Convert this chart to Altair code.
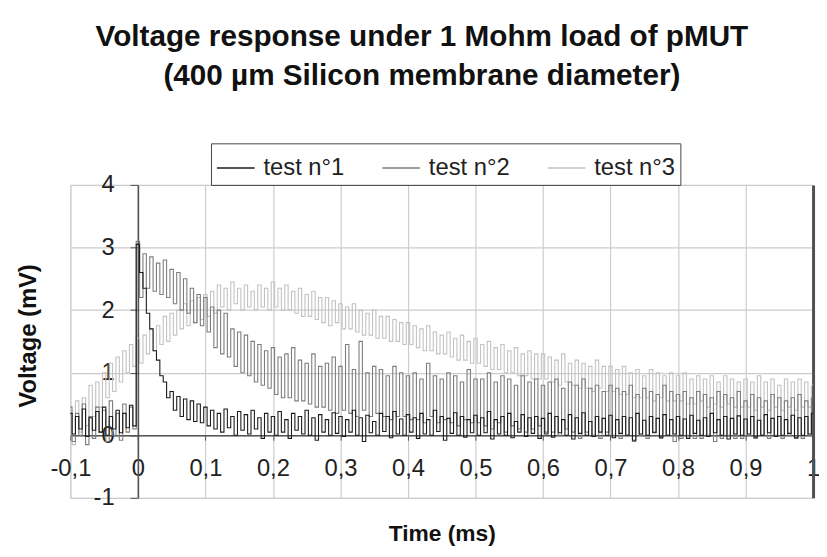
import altair as alt
import pandas as pd

# ---------------- data ----------------
title_lines = ["Voltage response under 1 Mohm load of pMUT",
               "(400 µm Silicon membrane diameter)"]
series_names = ["test n°1", "test n°2", "test n°3"]
series_colors = ["#1c1c1c", "#7d7d7d", "#c2c2c2"]
x_ticks = [-0.1, 0.0, 0.1, 0.2, 0.3, 0.4, 0.5, 0.6, 0.7, 0.8, 0.9, 1.0]
y_ticks = [-1, 0, 1, 2, 3, 4]

# sampling instants (ms): local maxima and the minima right after them
t_peak = [round(-0.1 + 0.01 * k, 3) for k in range(111)]
t_trough = [round(-0.095 + 0.01 * k, 3) for k in range(110)]

# test n°1 (mV)
s1_peak = [0.35, 0.3, 0.42, 0.28, 0.38, 0.45, 0.3, 0.4, 0.35, 0.48,
           3.05, 2.35, 1.7, 1.2, 0.85, 0.7, 0.62, 0.58, 0.55, 0.5,
           0.45, 0.4, 0.35, 0.42, 0.3, 0.38, 0.33, 0.4, 0.28, 0.35,
           0.3, 0.38, 0.25, 0.35, 0.3, 0.4, 0.28, 0.33, 0.25, 0.36,
           0.3, 0.25, 0.4, 0.28, 0.32, 0.22, 0.35, 0.3, 0.38, 0.26,
           0.33, 0.28, 0.35, 0.25, 0.4, 0.3, 0.27, 0.36, 0.3, 0.25,
           0.32, 0.28, 0.38, 0.25, 0.3, 0.35, 0.22, 0.33, 0.28, 0.3,
           0.27, 0.35, 0.3, 0.25, 0.33, 0.28, 0.36, 0.22, 0.3, 0.27,
           0.32, 0.25, 0.3, 0.28, 0.35, 0.24, 0.3, 0.27, 0.33, 0.25,
           0.3, 0.26, 0.32, 0.24, 0.28, 0.35, 0.25, 0.3, 0.27, 0.31,
           0.26, 0.3, 0.24, 0.33, 0.27, 0.3, 0.25, 0.32, 0.28, 0.3,
           0.35]
s1_trough = [0.02, 0.1, -0.02, 0.08, 0.05, 0.0, 0.1, 0.04, 0.12, 0.15,
             2.6, 1.95, 1.35, 0.95, 0.6, 0.4, 0.3, 0.25, 0.22, 0.2,
             0.15, 0.1, 0.05, 0.12, 0.0, 0.08, 0.02, 0.1, -0.05, 0.05,
             0.0, 0.05, -0.05, 0.08, 0.02, 0.0, -0.08, 0.05, 0.0, 0.03,
             -0.02, 0.05, 0.0, -0.1, 0.04, 0.0, 0.06, -0.04, 0.02, 0.0,
             0.05, -0.05, 0.02, 0.0, 0.06, -0.08, 0.03, 0.0, -0.03, 0.04,
             0.0, 0.04, -0.06, 0.02, 0.0, -0.04, 0.05, -0.02, 0.03, -0.05,
             0.02, -0.03, 0.04, 0.0, -0.06, 0.03, 0.0, -0.02, 0.05, 0.0,
             -0.04, 0.03, 0.0, -0.08, 0.02, 0.0, 0.04, -0.03, 0.0, 0.02,
             0.0, -0.05, 0.03, 0.0, -0.02, 0.04, 0.0, -0.06, 0.02, 0.0,
             0.02, -0.03, 0.0, 0.04, -0.02, 0.0, 0.03, -0.04, 0.0, 0.02]

# test n°2 (mV)
s2_peak = [0.45, 0.35, 0.5, 0.3, 0.45, 0.4, 0.55, 0.35, 0.5, 0.45,
           3.1, 2.9, 2.85, 2.75, 2.8, 2.65, 2.6, 2.5, 2.35, 2.25,
           2.2, 2.05, 2.0, 1.95, 1.7, 1.65, 1.6, 1.5, 1.45, 1.35,
           1.4, 1.25, 1.3, 1.4, 1.2, 1.15, 1.3, 1.1, 1.15, 1.25,
           1.1, 1.45, 1.05, 1.5, 1.0, 1.1, 1.05, 0.95, 1.1, 1.0,
           0.95, 1.0, 0.9, 1.15, 0.95, 0.9, 1.0, 0.95, 0.85, 1.05,
           0.9, 0.9, 1.0, 0.85, 0.95, 0.9, 0.8, 0.95, 0.85, 0.9,
           0.8, 0.85, 0.9, 0.75, 0.85, 0.8, 0.9, 0.75, 0.8, 0.7,
           0.8, 0.75, 0.7, 0.8, 0.65, 0.75, 0.7, 0.65, 0.8, 0.7,
           0.65, 0.7, 0.6, 0.7, 0.65, 0.6, 0.7, 0.65, 0.6, 0.7,
           0.55, 0.65, 0.6, 0.55, 0.65, 0.6, 0.55, 0.6, 0.65, 0.55,
           0.6]
s2_trough = [-0.1, 0.0, -0.15, -0.05, 0.05, -0.1, 0.0, -0.08, 0.05, 0.1,
             2.2, 2.35, 2.3, 2.25, 2.2, 2.1, 2.0, 1.95, 1.8, 1.75,
             1.65, 1.4, 1.3, 1.25, 1.1, 1.0, 0.95, 0.85, 0.8, 0.75,
             0.65, 0.6, 0.6, 0.55, 0.55, 0.5, 0.45, 0.45, 0.4, 0.35,
             0.4, 0.35, 0.3, 0.4, 0.3, 0.35, 0.3, 0.25, 0.3, 0.3,
             0.25, 0.25, 0.2, 0.3, 0.2, 0.25, 0.2, 0.15, 0.25, 0.2,
             0.2, 0.15, 0.1, 0.2, 0.05, 0.15, 0.1, 0.05, 0.1, 0.15,
             0.05, 0.05, 0.0, 0.1, 0.05, -0.05, 0.05, 0.0, -0.05, 0.05,
             0.0, -0.05, 0.0, -0.1, 0.0, -0.05, 0.05, -0.05, 0.0, -0.1,
             -0.05, 0.0, -0.05, -0.05, 0.0, -0.1, -0.05, 0.0, -0.05, -0.05,
             0.0, -0.05, 0.0, -0.05, 0.0, -0.05, 0.0, -0.05, -0.05, 0.0]

# test n°3 (mV)
s3_peak = [0.35, 0.55, 0.6, 0.8, 0.85, 1.0, 1.15, 1.25, 1.35, 1.45,
           1.55, 1.6, 1.7, 1.75, 1.9, 1.95, 2.0, 2.1, 2.15, 2.2,
           2.25, 2.3, 2.4, 2.35, 2.45, 2.35, 2.4, 2.3, 2.4, 2.35,
           2.45, 2.35, 2.4, 2.3, 2.35, 2.25, 2.3, 2.2, 2.2, 2.15,
           2.1, 2.05, 2.1, 2.0, 1.95, 2.0, 1.9, 1.9, 1.85, 1.8,
           1.8, 1.75, 1.7, 1.75, 1.65, 1.6, 1.65, 1.55, 1.6, 1.5,
           1.55, 1.45, 1.5, 1.4, 1.45, 1.35, 1.4, 1.3, 1.35, 1.3,
           1.3, 1.25, 1.2, 1.3, 1.15, 1.2, 1.15, 1.1, 1.2, 1.1,
           1.1, 1.05, 1.1, 1.0, 1.05, 0.95, 1.05, 1.0, 0.95, 1.0,
           0.95, 1.0, 0.9, 0.95, 0.9, 0.95, 0.85, 0.95, 0.9, 0.85,
           0.9, 0.85, 0.95, 0.85, 0.9, 0.8, 0.9, 0.85, 0.9, 0.85,
           0.8]
s3_trough = [-0.15, 0.05, 0.15, 0.3, 0.45, 0.6, 0.7, 0.85, 1.0, 1.1,
             1.15, 1.3, 1.35, 1.45, 1.5, 1.6, 1.7, 1.75, 1.8, 1.85,
             1.9, 1.95, 2.05, 2.0, 2.1, 2.0, 2.05, 2.0, 2.05, 2.0,
             2.05, 2.0, 2.0, 1.95, 1.9, 1.9, 1.85, 1.8, 1.75, 1.8,
             1.7, 1.7, 1.65, 1.6, 1.6, 1.55, 1.55, 1.5, 1.5, 1.45,
             1.45, 1.4, 1.35, 1.35, 1.3, 1.3, 1.25, 1.2, 1.2, 1.15,
             1.15, 1.1, 1.05, 1.05, 1.0, 1.0, 0.95, 0.95, 0.9, 0.9,
             0.9, 0.85, 0.8, 0.85, 0.8, 0.75, 0.75, 0.7, 0.75, 0.7,
             0.7, 0.65, 0.65, 0.6, 0.6, 0.6, 0.55, 0.6, 0.55, 0.55,
             0.55, 0.5, 0.5, 0.55, 0.45, 0.5, 0.45, 0.5, 0.45, 0.45,
             0.45, 0.4, 0.45, 0.4, 0.45, 0.4, 0.45, 0.4, 0.45, 0.45]


def series_rows(name, peaks, troughs):
    rows = []
    for k, v in enumerate(peaks):
        rows.append({"t": t_peak[k], "v": v, "series": name})
        if k < len(troughs):
            rows.append({"t": t_trough[k], "v": troughs[k], "series": name})
    return rows


rows = (series_rows(series_names[0], s1_peak, s1_trough)
        + series_rows(series_names[1], s2_peak, s2_trough)
        + series_rows(series_names[2], s3_peak, s3_trough))
df = pd.DataFrame(rows)

# ---------------- chart ----------------
FONT = "Liberation Sans"
W, H = 750, 316
x_scale = alt.Scale(domain=[-0.1, 1.0], nice=False, zero=False)
y_scale = alt.Scale(domain=[-1, 4], nice=False)

x_axis = alt.Axis(
    values=x_ticks, offset=-H / 5.0, grid=True, gridColor="#cccccc", gridWidth=1.2,
    domainColor="#555555", domainWidth=1.6, tickColor="#555555", tickSize=5,
    labelFont=FONT, labelFontSize=24, labelColor="#222222", labelPadding=17,
    labelFlush=False, labelOverlap=False,
    labelExpr="replace(toString(datum.value), '.', ',')",
    title="Time (ms)", titleFont=FONT, titleFontSize=23, titleFontWeight="bold",
    titleColor="#111111", titleX=W / 2, titleY=99, titleBaseline="middle",
    titleAlign="center")

y_axis = alt.Axis(
    values=y_ticks, offset=-W * 0.1 / 1.1, grid=True, gridColor="#cccccc", gridWidth=1.2,
    domainColor="#555555", domainWidth=1.6, tickColor="#555555", tickSize=8,
    labelFont=FONT, labelFontSize=24, labelColor="#222222", labelPadding=16,
    labelFlush=False, labelOverlap=False,
    labelExpr="toString(datum.value)",
    title="Voltage (mV)", titleFont=FONT, titleFontSize=24, titleFontWeight="bold",
    titleColor="#111111", titleX=-110, titleY=152, titleBaseline="middle",
    titleAlign="center", titleAngle=270)

right_axis = alt.Axis(orient="right", domain=True, domainColor="#505050", domainWidth=3,
                      labels=False, ticks=False, grid=False, title=None)

legend = alt.Legend(
    orient="none", legendX=142, legendY=-42, direction="horizontal", columns=3,
    title=None, symbolType="stroke", symbolSize=1444, symbolStrokeWidth=1.5,
    labelFont=FONT, labelFontSize=24, labelColor="#222222", labelOffset=8,
    columnPadding=35, padding=5, strokeColor="#444444")

color = alt.Color("series:N", scale=alt.Scale(domain=series_names, range=series_colors),
                  legend=legend)

base = alt.Chart(df).mark_line(strokeWidth=1.1, interpolate="step")

layer3 = base.transform_filter(alt.datum.series == series_names[2]).encode(
    x=alt.X("t:Q", scale=x_scale, axis=x_axis),
    y=alt.Y("v:Q", scale=y_scale, axis=right_axis),
    color=color)
layer2 = base.transform_filter(alt.datum.series == series_names[1]).encode(
    x=alt.X("t:Q", scale=x_scale, axis=x_axis),
    y=alt.Y("v:Q", scale=y_scale, axis=y_axis),
    color=color)
layer1 = base.transform_filter(alt.datum.series == series_names[0]).encode(
    x=alt.X("t:Q", scale=x_scale, axis=x_axis),
    y=alt.Y("v:Q", scale=y_scale, axis=None),
    color=color)

chart = (alt.layer(layer3, layer2, layer1)
         .resolve_axis(y="independent")
         .properties(
             width=W, height=H,
             autosize=alt.AutoSizeParams(type="none"),
             padding={"left": 63, "top": 176, "right": 6, "bottom": 49},
             title=alt.TitleParams(text=title_lines, font=FONT, fontSize=30,
                                   fontWeight="bold", color="#111111", anchor="middle",
                                   frame="group", dx=-20, offset=52, lineHeight=40))
         .configure_view(stroke="#8c8c8c", strokeWidth=1.5)
         .configure(background="white"))

chart.save("out.html", embed_options={"renderer": "svg", "actions": False})
